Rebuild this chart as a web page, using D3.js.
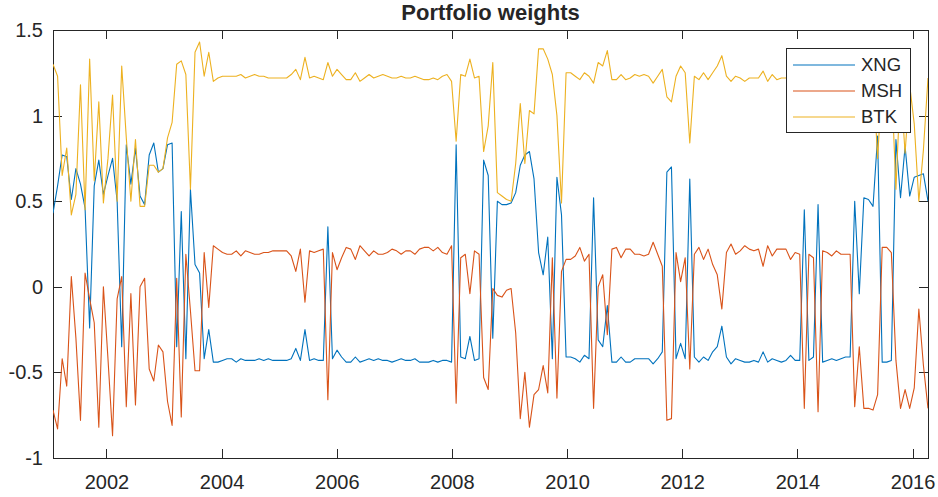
<!DOCTYPE html>
<html>

<head>
    <title>Portfolio weights</title>
    <script src="https://d3js.org/d3.v7.min.js"></script>
    <style>
        body {
            margin: 0;
            background: #fff;
        }

        svg text {
            font-family: "Liberation Sans", Arial, Helvetica, sans-serif;
            fill: #262626;
        }

        .axis path,
        .axis line {
            stroke: #262626;
            stroke-width: 1px;
            shape-rendering: crispEdges;
        }

        .series {
            fill: none;
            stroke-width: 1.1px;
            stroke-linejoin: round;
        }
    </style>
</head>

<body>
    <div id="chart"></div>
    <script>
        // rebalancing dates run from late Jan 2001 to early Apr 2016 (about every 20 trading days)
        const firstDate = new Date(2001, 0, 27)
        const lastDate = new Date(2016, 3, 8)

        const seriesNames = ["XNG", "MSH", "BTK"]
        const seriesColors = ["#0072BD", "#D95319", "#EDB120"]

        const xng = [
            0.43, 0.59, 0.77, 0.76, 0.51, 0.69, 0.60, 0.46, -0.24, 0.59, 0.74, 0.54, 0.65, 0.75, 0.50, -0.35, 0.83, 0.60, 0.81, 0.53, 0.48, 0.77, 0.84, 0.67, 0.69, 0.83, 0.84, -0.35, 0.44, -0.42, 0.57, 0.13, 0.08,
            -0.42, -0.25, -0.44, -0.44, -0.43, -0.42, -0.42, -0.44, -0.42, -0.43, -0.43, -0.43, -0.42, -0.43, -0.42, -0.43, -0.43, -0.43, -0.43, -0.42, -0.36, -0.43, -0.25, -0.43, -0.42, -0.43, -0.43, 0.35, -0.42, -0.37, -0.41,
            -0.44, -0.44, -0.41, -0.44, -0.43, -0.42, -0.43, -0.42, -0.43, -0.43, -0.44, -0.43, -0.42, -0.43, -0.43, -0.42, -0.44, -0.44, -0.44, -0.43, -0.44, -0.43, -0.43, -0.44, 0.83, -0.41, -0.42, -0.29, -0.43, -0.42, 0.74, 0.65,
            -0.30, 0.50, 0.48, 0.48, 0.49, 0.55, 0.71, 0.77, 0.79, 0.63, 0.20, 0.07, 0.29, -0.42, 0.64, 0.42, -0.41, -0.41, -0.42, -0.44, -0.40, -0.42, 0.52, -0.31, -0.35, -0.11, -0.44, -0.44, -0.41, -0.44, -0.44, -0.42,
            -0.42, -0.42, -0.42, -0.45, -0.42, -0.38, 0.67, 0.70, -0.42, -0.33, -0.42, 0.63, -0.41, -0.44, -0.41, -0.43, -0.38, -0.35, -0.23, -0.41, -0.45, -0.42, -0.43, -0.44, -0.44, -0.43, -0.44, -0.38, -0.44, -0.42, -0.43,
            -0.44, -0.43, -0.40, -0.43, -0.43, 0.45, -0.43, -0.41, 0.48, -0.44, -0.43, -0.42, -0.43, -0.42, -0.41, -0.41, 0.50, -0.04, 0.52, 0.51, 0.47, 0.88, -0.44, -0.44, -0.43, 0.86, 0.52, 0.82, 0.53, 0.64, 0.65, 0.66, 0.50
        ]

        const msh = [
            -0.72, -0.83, -0.42, -0.58, 0.06, -0.30, -0.78, 0.08, -0.07, -0.21, -0.82, 0.00, -0.42, -0.87, -0.07, 0.06, -0.70, -0.04, -0.69, 0.00, 0.05, -0.48, -0.55, -0.34, -0.38, -0.67, -0.81, 0.05, -0.76, 0.19, -0.14, -0.49, -0.49,
            0.20, -0.12, 0.24, 0.22, 0.20, 0.19, 0.19, 0.21, 0.18, 0.21, 0.20, 0.19, 0.19, 0.20, 0.20, 0.21, 0.21, 0.21, 0.21, 0.18, 0.09, 0.22, -0.09, 0.21, 0.20, 0.21, 0.22, -0.66, 0.20, 0.10, 0.17,
            0.23, 0.22, 0.16, 0.24, 0.21, 0.18, 0.21, 0.19, 0.19, 0.20, 0.22, 0.21, 0.19, 0.21, 0.21, 0.19, 0.22, 0.23, 0.23, 0.21, 0.23, 0.20, 0.19, 0.24, -0.68, 0.17, 0.19, -0.04, 0.21, 0.19, -0.53, -0.60,
            -0.01, -0.05, -0.06, -0.02, -0.01, -0.27, -0.77, -0.50, -0.82, -0.63, -0.60, -0.46, -0.62, 0.17, -0.65, 0.09, 0.16, 0.16, 0.18, 0.23, 0.15, 0.19, -0.71, 0.00, 0.07, -0.28, 0.22, 0.23, 0.17, 0.22, 0.22, 0.19,
            0.19, 0.18, 0.19, 0.26, 0.19, 0.12, -0.78, -0.77, 0.20, 0.03, 0.17, -0.48, 0.19, 0.23, 0.16, 0.22, 0.13, 0.07, -0.13, 0.20, 0.25, 0.19, 0.21, 0.24, 0.22, 0.21, 0.22, 0.12, 0.24, 0.18, 0.22,
            0.22, 0.22, 0.16, 0.20, 0.19, -0.71, 0.19, 0.17, -0.73, 0.21, 0.20, 0.18, 0.21, 0.19, 0.19, 0.19, -0.70, -0.35, -0.71, -0.71, -0.72, -0.63, 0.23, 0.23, 0.20, -0.43, -0.71, -0.60, -0.71, -0.59, -0.13, -0.46, -0.71
        ]

        const btk = [
            1.30, 1.23, 0.65, 0.81, 0.42, 0.54, 1.18, 0.45, 1.33, 0.62, 1.08, 0.49, 0.75, 1.12, 0.50, 1.29, 0.87, 0.50, 0.86, 0.47, 0.47, 0.71, 0.71, 0.67, 0.69, 0.87, 0.96, 1.30, 1.32, 1.24, 0.57, 1.37, 1.43,
            1.23, 1.37, 1.20, 1.22, 1.23, 1.23, 1.23, 1.23, 1.24, 1.22, 1.23, 1.24, 1.23, 1.23, 1.22, 1.22, 1.22, 1.22, 1.22, 1.24, 1.27, 1.21, 1.34, 1.22, 1.23, 1.22, 1.21, 1.31, 1.23, 1.27, 1.24,
            1.21, 1.21, 1.25, 1.20, 1.22, 1.24, 1.22, 1.23, 1.24, 1.23, 1.22, 1.22, 1.23, 1.22, 1.22, 1.23, 1.22, 1.21, 1.21, 1.22, 1.21, 1.23, 1.24, 1.20, 0.85, 1.24, 1.23, 1.33, 1.22, 1.23, 0.79, 0.94,
            1.31, 0.55, 0.53, 0.51, 0.50, 0.72, 1.07, 0.72, 1.03, 1.01, 1.39, 1.39, 1.33, 1.24, 1.00, 0.49, 1.25, 1.25, 1.23, 1.21, 1.25, 1.23, 1.19, 1.31, 1.29, 1.38, 1.21, 1.21, 1.24, 1.21, 1.22, 1.24,
            1.23, 1.24, 1.23, 1.19, 1.23, 1.27, 1.11, 1.08, 1.23, 1.29, 1.25, 0.84, 1.23, 1.21, 1.25, 1.21, 1.25, 1.29, 1.35, 1.23, 1.20, 1.23, 1.22, 1.20, 1.22, 1.22, 1.22, 1.26, 1.20, 1.24, 1.21,
            1.22, 1.22, 1.24, 1.23, 1.24, 1.26, 1.24, 1.24, 1.25, 1.23, 1.23, 1.24, 1.22, 1.23, 1.22, 1.22, 1.20, 1.39, 1.19, 1.20, 1.25, 0.75, 1.21, 1.21, 1.23, 0.57, 1.19, 0.78, 1.18, 0.95, 0.50, 0.80, 1.22
        ]

        const xTickYears = [2002, 2004, 2006, 2008, 2010, 2012, 2014, 2016]
        const yTicks = [-1, -0.5, 0, 0.5, 1, 1.5]

        const width = 938, height = 497
        const margin = { top: 30, right: 10, bottom: 39, left: 53 }

        const n = xng.length
        const dates = d3.range(n).map(i => new Date(+firstDate + i * (lastDate - firstDate) / (n - 1)))
        const allSeries = [xng, msh, btk]

        const svg = d3.select("#chart")
            .append("svg")
            .attr("width", width)
            .attr("height", height)

        const x = d3.scaleTime()
            .domain([firstDate, lastDate])
            .range([margin.left, width - margin.right])

        const y = d3.scaleLinear()
            .domain([-1, 1.5])
            .range([height - margin.bottom, margin.top])

        const xTicks = xTickYears.map(yr => new Date(yr, 0, 1))

        // MATLAB-ish box: ticks point inward on all four sides
        svg.append("g")
            .attr("class", "axis")
            .attr("transform", `translate(0,${height - margin.bottom})`)
            .call(d3.axisBottom(x).tickValues(xTicks).tickSize(-9).tickSizeOuter(0).tickPadding(17)
                .tickFormat(d3.timeFormat("%Y")))
        svg.append("g")
            .attr("class", "axis")
            .attr("transform", `translate(0,${margin.top})`)
            .call(d3.axisTop(x).tickValues(xTicks).tickSize(-9).tickSizeOuter(0).tickFormat(""))
        svg.append("g")
            .attr("class", "axis")
            .attr("transform", `translate(${margin.left},0)`)
            .call(d3.axisLeft(y).tickValues(yTicks).tickSize(-9).tickSizeOuter(0).tickPadding(10)
                .tickFormat(d => String(d)))
        svg.append("g")
            .attr("class", "axis")
            .attr("transform", `translate(${width - margin.right},0)`)
            .call(d3.axisRight(y).tickValues(yTicks).tickSize(-9).tickSizeOuter(0).tickFormat(""))

        svg.selectAll(".axis text")
            .style("font-size", "20px")

        svg.append("defs").append("clipPath")
            .attr("id", "plot-clip")
            .append("rect")
            .attr("x", margin.left)
            .attr("y", margin.top)
            .attr("width", width - margin.left - margin.right)
            .attr("height", height - margin.top - margin.bottom)

        const line = d3.line()
            .x((d, i) => x(dates[i]))
            .y(d => y(d))

        svg.append("g")
            .attr("clip-path", "url(#plot-clip)")
            .selectAll("path")
            .data(allSeries)
            .join("path")
            .attr("class", "series")
            .attr("stroke", (d, i) => seriesColors[i])
            .attr("d", line)

        svg.append("text")
            .attr("x", (margin.left + width - margin.right) / 2)
            .attr("y", 20)
            .attr("text-anchor", "middle")
            .style("font-size", "22px")
            .style("font-weight", "bold")
            .text("Portfolio weights")

        // legend, top right inside the axes
        const legend = svg.append("g")
            .attr("transform", "translate(786,48)")
        legend.append("rect")
            .attr("width", 124)
            .attr("height", 84)
            .attr("fill", "#fff")
            .attr("stroke", "#262626")
            .attr("stroke-width", 1)
            .attr("shape-rendering", "crispEdges")

        const entries = legend.selectAll("g.entry")
            .data(seriesNames)
            .join("g")
            .attr("class", "entry")
            .attr("transform", (d, i) => `translate(0,${17 + i * 26})`)
        entries.append("line")
            .attr("x1", 7)
            .attr("x2", 69)
            .attr("stroke", (d, i) => seriesColors[i])
            .attr("stroke-width", 1.1)
        entries.append("text")
            .attr("x", 75)
            .attr("dy", "0.35em")
            .style("font-size", "18.5px")
            .text(d => d)
    </script>
</body>

</html>
